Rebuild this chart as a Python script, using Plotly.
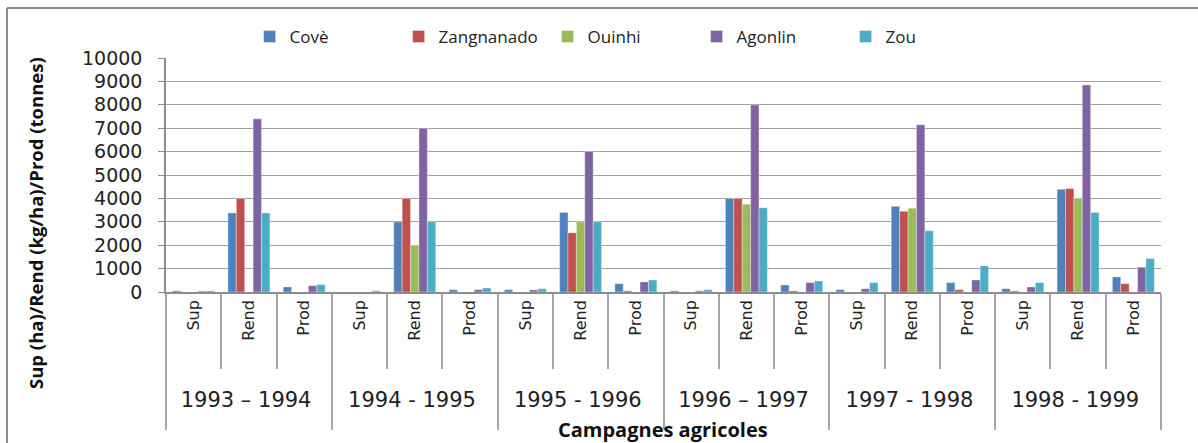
import plotly.graph_objects as go

years = ["1993 – 1994", "1994 - 1995", "1995 - 1996", "1996 – 1997", "1997 - 1998", "1998 - 1999"]
params = ["Sup", "Rend", "Prod"]

cove       = [50, 3380, 215,  0, 3000, 100,  100, 3400, 360,  50, 4000, 300,  100, 3660, 400,  140, 4390, 645]
zangnanado = [0, 4000, 0,     0, 4000, 0,    0, 2530, 50,     0, 4000, 50,    0, 3450, 100,    45, 4420, 360]
ouinhi     = [0, 0, 0,        0, 2000, 0,    0, 3000, 0,      0, 3750, 0,     0, 3580, 0,      0, 4000, 0]
agonlin    = [40, 7400, 270,  0, 7000, 100,  90, 6000, 430,   50, 8000, 400,  140, 7150, 515,  215, 8850, 1060]
zou        = [50, 3380, 315,  50, 3000, 170, 140, 3000, 515,  100, 3600, 470, 400, 2620, 1115, 400, 3400, 1430]

series = [("Covè", cove, "#4F81BD"), ("Zangnanado", zangnanado, "#C0504D"),
          ("Ouinhi", ouinhi, "#9BBB59"), ("Agonlin", agonlin, "#8064A2"),
          ("Zou", zou, "#4BACC6")]

# outer labels larger with a small blank line below; inner labels padded so the outer tier sits lower
outer = ["<span style='font-size:21px'>%s</span><br><span style='font-size:5px'>\u00a0</span>" % y for y in years]
inner = ["\u00a0" * 7 + p for p in params]
xcat = [[o for o in outer for _ in inner], [p for _ in outer for p in inner]]

fig = go.Figure()
for name, vals, col in series:
    fig.add_trace(go.Bar(x=xcat, y=vals, name=name, marker_color=col,
                         marker_line=dict(color="rgba(255,255,255,0.6)", width=0.6)))

W, H = 1198, 443
L, R, T, B = 166, 37, 58, 151
fig.update_layout(
    width=W, height=H, barmode="group", bargap=0.24, bargroupgap=0,
    margin=dict(l=L, r=R, t=T, b=B, autoexpand=False),
    paper_bgcolor="white", plot_bgcolor="white",
    font=dict(family="DejaVu Sans", size=16, color="#222"),
    legend=dict(orientation="h", x=0.084, y=1.09, xanchor="left", yanchor="middle",
                entrywidth=104, entrywidthmode="pixels", bgcolor="rgba(0,0,0,0)",
                font=dict(family="Open Sans", size=17, color="#222")),
)
fig.update_yaxes(range=[0, 10000], dtick=1000, tickformat="d", showgrid=True, gridcolor="#a0a0a0", gridwidth=1,
                 showline=True, linecolor="#8c8c8c", linewidth=1.5, automargin=False,
                 ticks="outside", ticklen=6, tickcolor="#8c8c8c", ticklabelstandoff=12,
                 tickfont=dict(family="DejaVu Sans", size=19, color="#222"), zeroline=False)
fig.update_xaxes(type="multicategory", tickangle=-90, showline=True, linecolor="#8c8c8c", linewidth=1.5,
                 showdividers=True, dividercolor="#a6a6a6", dividerwidth=1.5, automargin=False,
                 ticks="outside", tickson="boundaries", ticklen=75, tickcolor="#a6a6a6", tickwidth=1.5,
                 tickfont=dict(family="DejaVu Sans", size=16, color="#222"))

pw = W - L - R
ph = H - T - B
def px(v): return (v - L) / pw
def py(v): return (H - B - v) / ph

fig.add_annotation(text="<b>Sup (ha)/Rend (kg/ha)/Prod (tonnes)</b>", xref="paper", yref="paper",
                   x=px(36), y=py(223), xanchor="center", yanchor="middle", textangle=-90, showarrow=False,
                   font=dict(family="Open Sans", size=18.5, color="#111"))
fig.add_annotation(text="<b>Campagnes agricoles</b>", xref="paper", yref="paper",
                   x=px(663), y=py(429), xanchor="center", yanchor="middle", showarrow=False,
                   font=dict(family="Open Sans", size=20, color="#111"))
# outer chart frame (only its left and top edges fall inside the picture)
frame = dict(color="#8c8c8c", width=2)
fig.add_shape(type="line", xref="paper", yref="paper", x0=px(7), x1=px(7), y0=py(470), y1=py(8),
              line=frame, layer="below")
fig.add_shape(type="line", xref="paper", yref="paper", x0=px(7), x1=px(1230), y0=py(8), y1=py(8),
              line=frame, layer="below")

fig.write_html("out.html", post_script="document.body.style.margin='0';",
               config={"displayModeBar": False})
